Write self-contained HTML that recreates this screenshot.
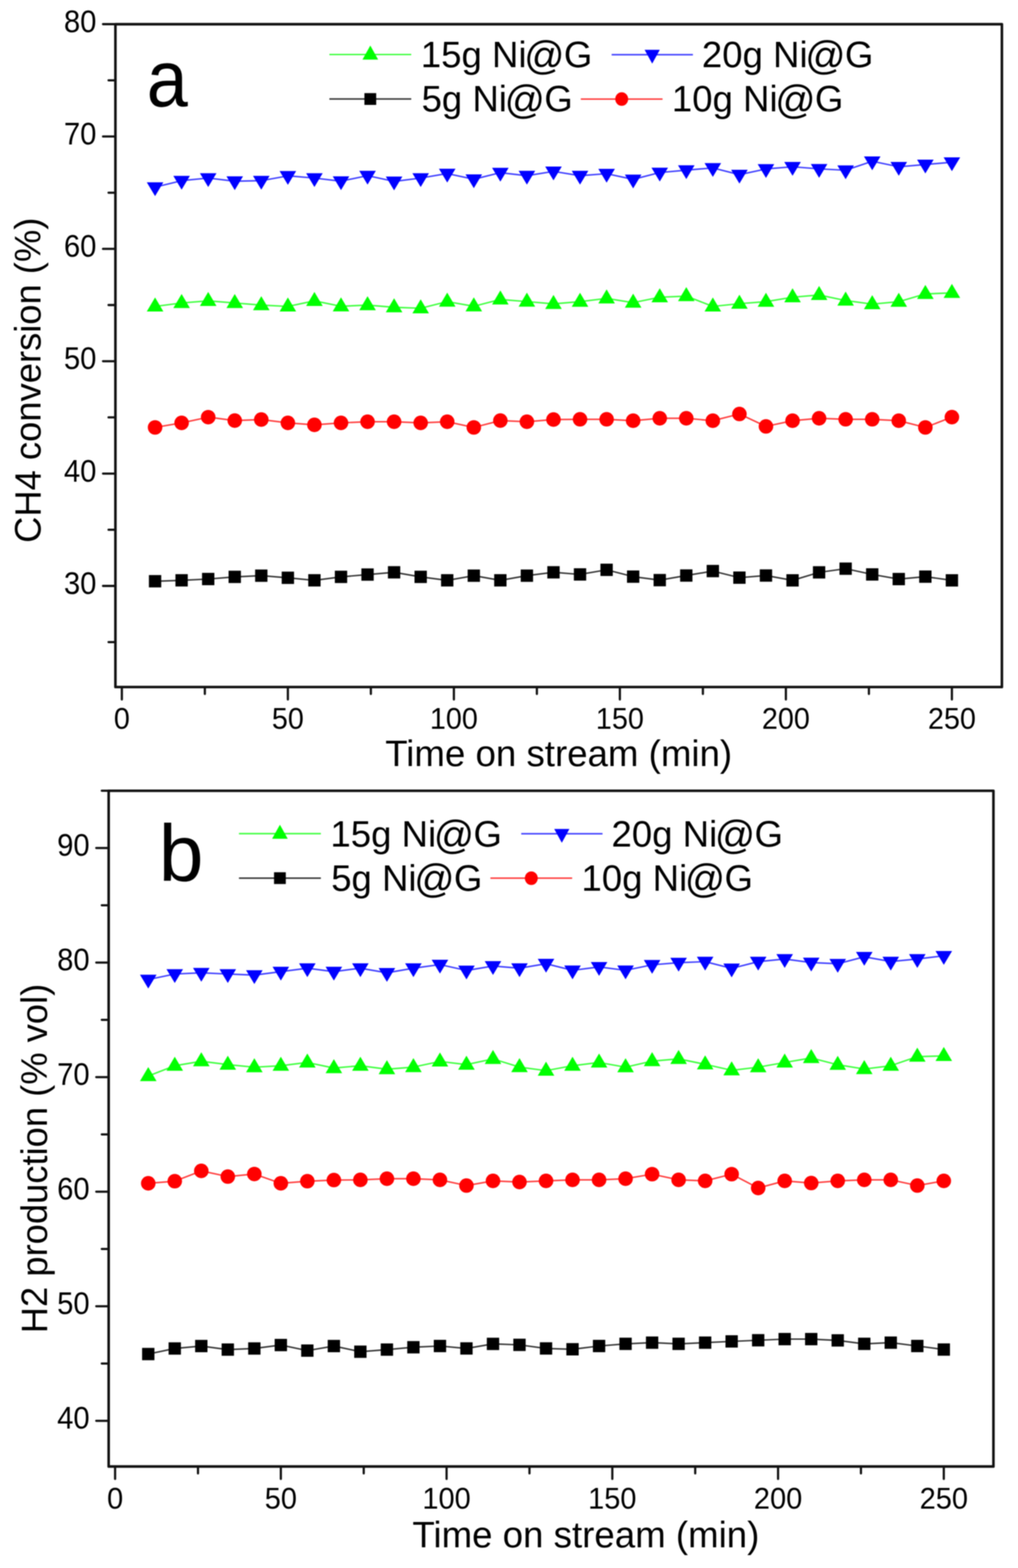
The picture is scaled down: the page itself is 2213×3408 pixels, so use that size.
<!DOCTYPE html>
<html><head><meta charset="utf-8"><title>CH4 conversion and H2 production vs time on stream</title>
<style>
html,body{margin:0;padding:0;background:#fff;}
body{width:2213px;height:3408px;overflow:hidden;}
svg{display:block;filter:blur(1px);}
</style></head>
<body>
<svg width="2213" height="3408" viewBox="0 0 2213 3408" font-family='"Liberation Sans", Arial, Helvetica, sans-serif' fill="#000">
<rect width="2213" height="3408" fill="#fff"/>
<polyline points="337.1,1263.3 394.8,1261.3 452.6,1258.5 510.3,1253.8 568,1251.2 625.8,1255.8 683.5,1261.3 741.3,1253.8 799,1248.8 856.7,1243.9 914.5,1253.8 972.2,1261.3 1030,1251.2 1087.7,1261.3 1145.4,1251.2 1203.2,1243.9 1260.9,1248.5 1318.7,1238.5 1376.4,1253.3 1434.2,1260.9 1491.9,1250.9 1549.6,1241.2 1607.4,1255.5 1665.1,1250.9 1722.9,1261.4 1780.6,1244 1838.3,1236 1896.1,1248.5 1953.8,1258.6 2011.6,1253.3 2069.3,1261.4" fill="none" stroke="#333333" stroke-width="3.2" stroke-linejoin="round"/>
<g fill="#000000"><rect x="323.7" y="1249.9" width="26.8" height="26.8"/><rect x="381.4" y="1247.9" width="26.8" height="26.8"/><rect x="439.2" y="1245.1" width="26.8" height="26.8"/><rect x="496.9" y="1240.4" width="26.8" height="26.8"/><rect x="554.6" y="1237.8" width="26.8" height="26.8"/><rect x="612.4" y="1242.4" width="26.8" height="26.8"/><rect x="670.1" y="1247.9" width="26.8" height="26.8"/><rect x="727.9" y="1240.4" width="26.8" height="26.8"/><rect x="785.6" y="1235.4" width="26.8" height="26.8"/><rect x="843.3" y="1230.5" width="26.8" height="26.8"/><rect x="901.1" y="1240.4" width="26.8" height="26.8"/><rect x="958.8" y="1247.9" width="26.8" height="26.8"/><rect x="1016.6" y="1237.8" width="26.8" height="26.8"/><rect x="1074.3" y="1247.9" width="26.8" height="26.8"/><rect x="1132" y="1237.8" width="26.8" height="26.8"/><rect x="1189.8" y="1230.5" width="26.8" height="26.8"/><rect x="1247.5" y="1235.1" width="26.8" height="26.8"/><rect x="1305.3" y="1225.1" width="26.8" height="26.8"/><rect x="1363" y="1239.9" width="26.8" height="26.8"/><rect x="1420.8" y="1247.5" width="26.8" height="26.8"/><rect x="1478.5" y="1237.5" width="26.8" height="26.8"/><rect x="1536.2" y="1227.8" width="26.8" height="26.8"/><rect x="1594" y="1242.1" width="26.8" height="26.8"/><rect x="1651.7" y="1237.5" width="26.8" height="26.8"/><rect x="1709.5" y="1248" width="26.8" height="26.8"/><rect x="1767.2" y="1230.6" width="26.8" height="26.8"/><rect x="1824.9" y="1222.6" width="26.8" height="26.8"/><rect x="1882.7" y="1235.1" width="26.8" height="26.8"/><rect x="1940.4" y="1245.2" width="26.8" height="26.8"/><rect x="1998.2" y="1239.9" width="26.8" height="26.8"/><rect x="2055.9" y="1248" width="26.8" height="26.8"/></g>
<polyline points="337.1,929 394.8,919.1 452.6,906.7 510.3,914.1 568,911.9 625.8,919.1 683.5,923.4 741.3,919.1 799,916.6 856.7,916.6 914.5,919.1 972.2,916.6 1030,929 1087.7,914.1 1145.4,916.6 1203.2,911.9 1260.9,911.3 1318.7,911.3 1376.4,914.4 1434.2,909.1 1491.9,909.1 1549.6,914.4 1607.4,899.8 1665.1,926.8 1722.9,914.4 1780.6,909.1 1838.3,911.3 1896.1,911.3 1953.8,914.4 2011.6,929 2069.3,906.6" fill="none" stroke="#ff3c3c" stroke-width="3.2" stroke-linejoin="round"/>
<g fill="#ff0000"><ellipse cx="337.1" cy="929" rx="15.8" ry="15.8"/><ellipse cx="394.8" cy="919.1" rx="15.8" ry="15.8"/><ellipse cx="452.6" cy="906.7" rx="15.8" ry="15.8"/><ellipse cx="510.3" cy="914.1" rx="15.8" ry="15.8"/><ellipse cx="568" cy="911.9" rx="15.8" ry="15.8"/><ellipse cx="625.8" cy="919.1" rx="15.8" ry="15.8"/><ellipse cx="683.5" cy="923.4" rx="15.8" ry="15.8"/><ellipse cx="741.3" cy="919.1" rx="15.8" ry="15.8"/><ellipse cx="799" cy="916.6" rx="15.8" ry="15.8"/><ellipse cx="856.7" cy="916.6" rx="15.8" ry="15.8"/><ellipse cx="914.5" cy="919.1" rx="15.8" ry="15.8"/><ellipse cx="972.2" cy="916.6" rx="15.8" ry="15.8"/><ellipse cx="1030" cy="929" rx="15.8" ry="15.8"/><ellipse cx="1087.7" cy="914.1" rx="15.8" ry="15.8"/><ellipse cx="1145.4" cy="916.6" rx="15.8" ry="15.8"/><ellipse cx="1203.2" cy="911.9" rx="15.8" ry="15.8"/><ellipse cx="1260.9" cy="911.3" rx="15.8" ry="15.8"/><ellipse cx="1318.7" cy="911.3" rx="15.8" ry="15.8"/><ellipse cx="1376.4" cy="914.4" rx="15.8" ry="15.8"/><ellipse cx="1434.2" cy="909.1" rx="15.8" ry="15.8"/><ellipse cx="1491.9" cy="909.1" rx="15.8" ry="15.8"/><ellipse cx="1549.6" cy="914.4" rx="15.8" ry="15.8"/><ellipse cx="1607.4" cy="899.8" rx="15.8" ry="15.8"/><ellipse cx="1665.1" cy="926.8" rx="15.8" ry="15.8"/><ellipse cx="1722.9" cy="914.4" rx="15.8" ry="15.8"/><ellipse cx="1780.6" cy="909.1" rx="15.8" ry="15.8"/><ellipse cx="1838.3" cy="911.3" rx="15.8" ry="15.8"/><ellipse cx="1896.1" cy="911.3" rx="15.8" ry="15.8"/><ellipse cx="1953.8" cy="914.4" rx="15.8" ry="15.8"/><ellipse cx="2011.6" cy="929" rx="15.8" ry="15.8"/><ellipse cx="2069.3" cy="906.6" rx="15.8" ry="15.8"/></g>
<polyline points="337.1,666 394.8,658.5 452.6,653.9 510.3,658.5 568,663.2 625.8,666 683.5,653.9 741.3,665.7 799,663.2 856.7,667.8 914.5,670 972.2,655.5 1030,665.7 1087.7,650.8 1145.4,655.5 1203.2,660.4 1260.9,655.7 1318.7,648.5 1376.4,657.8 1434.2,646 1491.9,643.6 1549.6,666 1607.4,660 1665.1,655.7 1722.9,646 1780.6,641.1 1838.3,653.2 1896.1,661 1953.8,655.7 2011.6,638.8 2069.3,636.6" fill="none" stroke="#3cff3c" stroke-width="3.2" stroke-linejoin="round"/>
<g fill="#00ff00"><polygon points="337.1,646.5 319.1,677 355.1,677"/><polygon points="394.8,639 376.8,669.5 412.8,669.5"/><polygon points="452.6,634.4 434.6,664.9 470.6,664.9"/><polygon points="510.3,639 492.3,669.5 528.3,669.5"/><polygon points="568,643.7 550,674.2 586,674.2"/><polygon points="625.8,646.5 607.8,677 643.8,677"/><polygon points="683.5,634.4 665.5,664.9 701.5,664.9"/><polygon points="741.3,646.2 723.3,676.7 759.3,676.7"/><polygon points="799,643.7 781,674.2 817,674.2"/><polygon points="856.7,648.3 838.7,678.8 874.7,678.8"/><polygon points="914.5,650.5 896.5,681 932.5,681"/><polygon points="972.2,636 954.2,666.5 990.2,666.5"/><polygon points="1030,646.2 1012,676.7 1048,676.7"/><polygon points="1087.7,631.3 1069.7,661.8 1105.7,661.8"/><polygon points="1145.4,636 1127.4,666.5 1163.4,666.5"/><polygon points="1203.2,640.9 1185.2,671.4 1221.2,671.4"/><polygon points="1260.9,636.2 1242.9,666.7 1278.9,666.7"/><polygon points="1318.7,629 1300.7,659.5 1336.7,659.5"/><polygon points="1376.4,638.3 1358.4,668.8 1394.4,668.8"/><polygon points="1434.2,626.5 1416.2,657 1452.2,657"/><polygon points="1491.9,624.1 1473.9,654.6 1509.9,654.6"/><polygon points="1549.6,646.5 1531.6,677 1567.6,677"/><polygon points="1607.4,640.5 1589.4,671 1625.4,671"/><polygon points="1665.1,636.2 1647.1,666.7 1683.1,666.7"/><polygon points="1722.9,626.5 1704.9,657 1740.9,657"/><polygon points="1780.6,621.6 1762.6,652.1 1798.6,652.1"/><polygon points="1838.3,633.7 1820.3,664.2 1856.3,664.2"/><polygon points="1896.1,641.5 1878.1,672 1914.1,672"/><polygon points="1953.8,636.2 1935.8,666.7 1971.8,666.7"/><polygon points="2011.6,619.3 1993.6,649.8 2029.6,649.8"/><polygon points="2069.3,617.1 2051.3,647.6 2087.3,647.6"/></g>
<polyline points="337.1,406.7 394.8,392.7 452.6,387 510.3,393.8 568,392.7 625.8,382.2 683.5,387 741.3,393.8 799,381.8 856.7,394.3 914.5,387 972.2,377.2 1030,389.6 1087.7,375.3 1145.4,381.8 1203.2,372.5 1260.9,381.8 1318.7,377.5 1376.4,389.9 1434.2,375 1491.9,369.8 1549.6,365 1607.4,379.6 1665.1,367.2 1722.9,362.5 1780.6,367 1838.3,370 1896.1,350.5 1953.8,362.5 2011.6,357.6 2069.3,352.6" fill="none" stroke="#3c3cff" stroke-width="3.2" stroke-linejoin="round"/>
<g fill="#0000ff"><polygon points="319.1,396.2 355.1,396.2 337.1,426.2"/><polygon points="376.8,382.2 412.8,382.2 394.8,412.2"/><polygon points="434.6,376.5 470.6,376.5 452.6,406.5"/><polygon points="492.3,383.3 528.3,383.3 510.3,413.3"/><polygon points="550,382.2 586,382.2 568,412.2"/><polygon points="607.8,371.7 643.8,371.7 625.8,401.7"/><polygon points="665.5,376.5 701.5,376.5 683.5,406.5"/><polygon points="723.3,383.3 759.3,383.3 741.3,413.3"/><polygon points="781,371.3 817,371.3 799,401.3"/><polygon points="838.7,383.8 874.7,383.8 856.7,413.8"/><polygon points="896.5,376.5 932.5,376.5 914.5,406.5"/><polygon points="954.2,366.7 990.2,366.7 972.2,396.7"/><polygon points="1012,379.1 1048,379.1 1030,409.1"/><polygon points="1069.7,364.8 1105.7,364.8 1087.7,394.8"/><polygon points="1127.4,371.3 1163.4,371.3 1145.4,401.3"/><polygon points="1185.2,362 1221.2,362 1203.2,392"/><polygon points="1242.9,371.3 1278.9,371.3 1260.9,401.3"/><polygon points="1300.7,367 1336.7,367 1318.7,397"/><polygon points="1358.4,379.4 1394.4,379.4 1376.4,409.4"/><polygon points="1416.2,364.5 1452.2,364.5 1434.2,394.5"/><polygon points="1473.9,359.3 1509.9,359.3 1491.9,389.3"/><polygon points="1531.6,354.5 1567.6,354.5 1549.6,384.5"/><polygon points="1589.4,369.1 1625.4,369.1 1607.4,399.1"/><polygon points="1647.1,356.7 1683.1,356.7 1665.1,386.7"/><polygon points="1704.9,352 1740.9,352 1722.9,382"/><polygon points="1762.6,356.5 1798.6,356.5 1780.6,386.5"/><polygon points="1820.3,359.5 1856.3,359.5 1838.3,389.5"/><polygon points="1878.1,340 1914.1,340 1896.1,370"/><polygon points="1935.8,352 1971.8,352 1953.8,382"/><polygon points="1993.6,347.1 2029.6,347.1 2011.6,377.1"/><polygon points="2051.3,342.1 2087.3,342.1 2069.3,372.1"/></g>
<rect x="250.9" y="52.6" width="1927.1" height="1440.7" fill="none" stroke="#111" stroke-width="5.6" stroke-linejoin="round"/>
<path d="M250.9 1273.5H223.9M250.9 1029.3H223.9M250.9 785.1H223.9M250.9 540.9H223.9M250.9 296.7H223.9M250.9 52.5H223.9M250.9 1395.6H235.9M250.9 1151.4H235.9M250.9 907.2H235.9M250.9 663H235.9M250.9 418.8H235.9M250.9 174.6H235.9M264.9 1493.3V1520.3M625.8 1493.3V1520.3M986.7 1493.3V1520.3M1347.5 1493.3V1520.3M1708.4 1493.3V1520.3M2069.3 1493.3V1520.3M445.3 1493.3V1508.3M806.2 1493.3V1508.3M1167.1 1493.3V1508.3M1528 1493.3V1508.3M1888.9 1493.3V1508.3" stroke="#111" stroke-width="4.8" stroke-linecap="round" fill="none"/>
<g font-size="63.5" text-anchor="end">
<text transform="translate(209.5,1290.8) scale(1,1.065)">30</text>
<text transform="translate(209.5,1046.6) scale(1,1.065)">40</text>
<text transform="translate(209.5,802.4) scale(1,1.065)">50</text>
<text transform="translate(209.5,558.2) scale(1,1.065)">60</text>
<text transform="translate(209.5,314) scale(1,1.065)">70</text>
<text transform="translate(209.5,69.8) scale(1,1.065)">80</text>
</g><g font-size="62.5" text-anchor="middle">
<text transform="translate(264.9,1584.4) scale(1,1.035)">0</text>
<text transform="translate(625.8,1584.4) scale(1,1.035)">50</text>
<text transform="translate(986.7,1584.4) scale(1,1.035)">100</text>
<text transform="translate(1347.5,1584.4) scale(1,1.035)">150</text>
<text transform="translate(1708.4,1584.4) scale(1,1.035)">200</text>
<text transform="translate(2069.3,1584.4) scale(1,1.035)">250</text>
</g>
<text x="837.4" y="1665.1" font-size="79.7">Time on stream (min)</text>
<text transform="translate(88.4,1179.9) rotate(-90)" font-size="79">CH4 conversion (%)</text>
<text transform="translate(318.8,231) scale(0.92,1)" font-size="175">a</text>
<line x1="716" y1="118.5" x2="894" y2="118.5" stroke="#3cff3c" stroke-width="3.2"/>
<g fill="#00ff00"><polygon points="805,99 788,129.5 822,129.5"/></g>
<line x1="1329.6" y1="118.8" x2="1506.3" y2="118.8" stroke="#3c3cff" stroke-width="3.2"/>
<g fill="#0000ff"><polygon points="1401.3,108.3 1434.3,108.3 1417.8,138.3"/></g>
<line x1="716" y1="215.2" x2="894" y2="215.2" stroke="#333333" stroke-width="3.2"/>
<g fill="#000000"><rect x="792.2" y="202.4" width="25.6" height="25.6"/></g>
<line x1="1262.6" y1="215.3" x2="1440.3" y2="215.3" stroke="#ff3c3c" stroke-width="3.2"/>
<g fill="#ff0000"><ellipse cx="1351.5" cy="215.3" rx="14" ry="14.8"/></g>
<g font-size="79.5">
<text x="914.8" y="146.4">15g Ni<tspan font-size="86.4" dx="-5.1" dy="3.7">@</tspan><tspan dx="-1.4" dy="-3.7">G</tspan></text>
<text x="1525.8" y="146.4">20g Ni<tspan font-size="86.4" dx="-5.1" dy="3.7">@</tspan><tspan dx="-1.4" dy="-3.7">G</tspan></text>
<text x="916.4" y="242.2">5g Ni<tspan font-size="86.4" dx="-5.1" dy="3.7">@</tspan><tspan dx="-1.4" dy="-3.7">G</tspan></text>
<text x="1460.6" y="242.2">10g Ni<tspan font-size="86.4" dx="-5.1" dy="3.7">@</tspan><tspan dx="-1.4" dy="-3.7">G</tspan></text>
</g>
<polyline points="322.3,2943 379.9,2930.9 437.6,2925.6 495.2,2933.3 552.9,2930.9 610.5,2923.4 668.1,2935.5 725.8,2925.6 783.4,2937.9 841.1,2933.3 898.7,2928.2 956.4,2925.5 1014,2930.8 1071.7,2920.9 1129.3,2923 1187,2930.8 1244.6,2932.6 1302.3,2925.5 1359.9,2920.8 1417.6,2918.2 1475.2,2920.8 1532.9,2918.2 1590.5,2915.5 1648.2,2913 1705.8,2910.5 1763.5,2910.5 1821.1,2913.3 1878.8,2920.8 1936.4,2918.2 1994.1,2925.5 2051.7,2933.2" fill="none" stroke="#333333" stroke-width="3.2" stroke-linejoin="round"/>
<g fill="#000000"><rect x="308.9" y="2929.6" width="26.8" height="26.8"/><rect x="366.5" y="2917.5" width="26.8" height="26.8"/><rect x="424.2" y="2912.2" width="26.8" height="26.8"/><rect x="481.8" y="2919.9" width="26.8" height="26.8"/><rect x="539.5" y="2917.5" width="26.8" height="26.8"/><rect x="597.1" y="2910" width="26.8" height="26.8"/><rect x="654.7" y="2922.1" width="26.8" height="26.8"/><rect x="712.4" y="2912.2" width="26.8" height="26.8"/><rect x="770" y="2924.5" width="26.8" height="26.8"/><rect x="827.7" y="2919.9" width="26.8" height="26.8"/><rect x="885.3" y="2914.8" width="26.8" height="26.8"/><rect x="943" y="2912.1" width="26.8" height="26.8"/><rect x="1000.6" y="2917.4" width="26.8" height="26.8"/><rect x="1058.3" y="2907.5" width="26.8" height="26.8"/><rect x="1115.9" y="2909.6" width="26.8" height="26.8"/><rect x="1173.6" y="2917.4" width="26.8" height="26.8"/><rect x="1231.2" y="2919.2" width="26.8" height="26.8"/><rect x="1288.9" y="2912.1" width="26.8" height="26.8"/><rect x="1346.5" y="2907.4" width="26.8" height="26.8"/><rect x="1404.2" y="2904.8" width="26.8" height="26.8"/><rect x="1461.8" y="2907.4" width="26.8" height="26.8"/><rect x="1519.5" y="2904.8" width="26.8" height="26.8"/><rect x="1577.1" y="2902.1" width="26.8" height="26.8"/><rect x="1634.8" y="2899.6" width="26.8" height="26.8"/><rect x="1692.4" y="2897.1" width="26.8" height="26.8"/><rect x="1750.1" y="2897.1" width="26.8" height="26.8"/><rect x="1807.7" y="2899.9" width="26.8" height="26.8"/><rect x="1865.4" y="2907.4" width="26.8" height="26.8"/><rect x="1923" y="2904.8" width="26.8" height="26.8"/><rect x="1980.7" y="2912.1" width="26.8" height="26.8"/><rect x="2038.3" y="2919.8" width="26.8" height="26.8"/></g>
<polyline points="322.3,2571.9 379.9,2567.3 437.6,2544.9 495.2,2557.3 552.9,2551.7 610.5,2571.9 668.1,2567.3 725.8,2564.8 783.4,2564.4 841.1,2561.9 898.7,2561.9 956.4,2564.4 1014,2576.8 1071.7,2566.6 1129.3,2569.1 1187,2566.6 1244.6,2564.4 1302.3,2564.4 1359.9,2561.9 1417.6,2552 1475.2,2564.4 1532.9,2566.6 1590.5,2552 1648.2,2582.1 1705.8,2566.6 1763.5,2571.3 1821.1,2566.6 1878.8,2564.4 1936.4,2564.4 1994.1,2576.8 2051.7,2566.6" fill="none" stroke="#ff3c3c" stroke-width="3.2" stroke-linejoin="round"/>
<g fill="#ff0000"><ellipse cx="322.3" cy="2571.9" rx="15.8" ry="15.8"/><ellipse cx="379.9" cy="2567.3" rx="15.8" ry="15.8"/><ellipse cx="437.6" cy="2544.9" rx="15.8" ry="15.8"/><ellipse cx="495.2" cy="2557.3" rx="15.8" ry="15.8"/><ellipse cx="552.9" cy="2551.7" rx="15.8" ry="15.8"/><ellipse cx="610.5" cy="2571.9" rx="15.8" ry="15.8"/><ellipse cx="668.1" cy="2567.3" rx="15.8" ry="15.8"/><ellipse cx="725.8" cy="2564.8" rx="15.8" ry="15.8"/><ellipse cx="783.4" cy="2564.4" rx="15.8" ry="15.8"/><ellipse cx="841.1" cy="2561.9" rx="15.8" ry="15.8"/><ellipse cx="898.7" cy="2561.9" rx="15.8" ry="15.8"/><ellipse cx="956.4" cy="2564.4" rx="15.8" ry="15.8"/><ellipse cx="1014" cy="2576.8" rx="15.8" ry="15.8"/><ellipse cx="1071.7" cy="2566.6" rx="15.8" ry="15.8"/><ellipse cx="1129.3" cy="2569.1" rx="15.8" ry="15.8"/><ellipse cx="1187" cy="2566.6" rx="15.8" ry="15.8"/><ellipse cx="1244.6" cy="2564.4" rx="15.8" ry="15.8"/><ellipse cx="1302.3" cy="2564.4" rx="15.8" ry="15.8"/><ellipse cx="1359.9" cy="2561.9" rx="15.8" ry="15.8"/><ellipse cx="1417.6" cy="2552" rx="15.8" ry="15.8"/><ellipse cx="1475.2" cy="2564.4" rx="15.8" ry="15.8"/><ellipse cx="1532.9" cy="2566.6" rx="15.8" ry="15.8"/><ellipse cx="1590.5" cy="2552" rx="15.8" ry="15.8"/><ellipse cx="1648.2" cy="2582.1" rx="15.8" ry="15.8"/><ellipse cx="1705.8" cy="2566.6" rx="15.8" ry="15.8"/><ellipse cx="1763.5" cy="2571.3" rx="15.8" ry="15.8"/><ellipse cx="1821.1" cy="2566.6" rx="15.8" ry="15.8"/><ellipse cx="1878.8" cy="2564.4" rx="15.8" ry="15.8"/><ellipse cx="1936.4" cy="2564.4" rx="15.8" ry="15.8"/><ellipse cx="1994.1" cy="2576.8" rx="15.8" ry="15.8"/><ellipse cx="2051.7" cy="2566.6" rx="15.8" ry="15.8"/></g>
<polyline points="322.3,2338.7 379.9,2316.3 437.6,2306.6 495.2,2313.9 552.9,2319.5 610.5,2316.3 668.1,2309.2 725.8,2321.4 783.4,2316.3 841.1,2323.8 898.7,2319.3 956.4,2307 1014,2313.9 1071.7,2301.5 1129.3,2319.3 1187,2327 1244.6,2316.3 1302.3,2309.2 1359.9,2319.5 1417.6,2306.3 1475.2,2301.4 1532.9,2313.3 1590.5,2326.3 1648.2,2319.5 1705.8,2309.2 1763.5,2299.4 1821.1,2314.2 1878.8,2323.5 1936.4,2316.3 1994.1,2296.6 2051.7,2295" fill="none" stroke="#3cff3c" stroke-width="3.2" stroke-linejoin="round"/>
<g fill="#00ff00"><polygon points="322.3,2319.2 304.3,2349.7 340.3,2349.7"/><polygon points="379.9,2296.8 361.9,2327.3 397.9,2327.3"/><polygon points="437.6,2287.1 419.6,2317.6 455.6,2317.6"/><polygon points="495.2,2294.4 477.2,2324.9 513.2,2324.9"/><polygon points="552.9,2300 534.9,2330.5 570.9,2330.5"/><polygon points="610.5,2296.8 592.5,2327.3 628.5,2327.3"/><polygon points="668.1,2289.7 650.1,2320.2 686.1,2320.2"/><polygon points="725.8,2301.9 707.8,2332.4 743.8,2332.4"/><polygon points="783.4,2296.8 765.4,2327.3 801.4,2327.3"/><polygon points="841.1,2304.3 823.1,2334.8 859.1,2334.8"/><polygon points="898.7,2299.8 880.7,2330.3 916.7,2330.3"/><polygon points="956.4,2287.5 938.4,2318 974.4,2318"/><polygon points="1014,2294.4 996,2324.9 1032,2324.9"/><polygon points="1071.7,2282 1053.7,2312.5 1089.7,2312.5"/><polygon points="1129.3,2299.8 1111.3,2330.3 1147.3,2330.3"/><polygon points="1187,2307.5 1169,2338 1205,2338"/><polygon points="1244.6,2296.8 1226.6,2327.3 1262.6,2327.3"/><polygon points="1302.3,2289.7 1284.3,2320.2 1320.3,2320.2"/><polygon points="1359.9,2300 1341.9,2330.5 1377.9,2330.5"/><polygon points="1417.6,2286.8 1399.6,2317.3 1435.6,2317.3"/><polygon points="1475.2,2281.9 1457.2,2312.4 1493.2,2312.4"/><polygon points="1532.9,2293.8 1514.9,2324.3 1550.9,2324.3"/><polygon points="1590.5,2306.8 1572.5,2337.3 1608.5,2337.3"/><polygon points="1648.2,2300 1630.2,2330.5 1666.2,2330.5"/><polygon points="1705.8,2289.7 1687.8,2320.2 1723.8,2320.2"/><polygon points="1763.5,2279.9 1745.5,2310.4 1781.5,2310.4"/><polygon points="1821.1,2294.7 1803.1,2325.2 1839.1,2325.2"/><polygon points="1878.8,2304 1860.8,2334.5 1896.8,2334.5"/><polygon points="1936.4,2296.8 1918.4,2327.3 1954.4,2327.3"/><polygon points="1994.1,2277.1 1976.1,2307.6 2012.1,2307.6"/><polygon points="2051.7,2275.5 2033.7,2306 2069.7,2306"/></g>
<polyline points="322.3,2129 379.9,2117 437.6,2114.3 495.2,2117 552.9,2119.3 610.5,2111.8 668.1,2104.3 725.8,2111.8 783.4,2104.3 841.1,2114.4 898.7,2104.3 956.4,2096.5 1014,2109.3 1071.7,2099.6 1129.3,2104.3 1187,2094.6 1244.6,2109 1302.3,2101.6 1359.9,2109 1417.6,2097 1475.2,2092.3 1532.9,2090.1 1590.5,2104.7 1648.2,2090.1 1705.8,2084.3 1763.5,2092.1 1821.1,2094.7 1878.8,2079.6 1936.4,2089.9 1994.1,2084.3 2051.7,2077.5" fill="none" stroke="#3c3cff" stroke-width="3.2" stroke-linejoin="round"/>
<g fill="#0000ff"><polygon points="304.3,2118.5 340.3,2118.5 322.3,2148.5"/><polygon points="361.9,2106.5 397.9,2106.5 379.9,2136.5"/><polygon points="419.6,2103.8 455.6,2103.8 437.6,2133.8"/><polygon points="477.2,2106.5 513.2,2106.5 495.2,2136.5"/><polygon points="534.9,2108.8 570.9,2108.8 552.9,2138.8"/><polygon points="592.5,2101.3 628.5,2101.3 610.5,2131.3"/><polygon points="650.1,2093.8 686.1,2093.8 668.1,2123.8"/><polygon points="707.8,2101.3 743.8,2101.3 725.8,2131.3"/><polygon points="765.4,2093.8 801.4,2093.8 783.4,2123.8"/><polygon points="823.1,2103.9 859.1,2103.9 841.1,2133.9"/><polygon points="880.7,2093.8 916.7,2093.8 898.7,2123.8"/><polygon points="938.4,2086 974.4,2086 956.4,2116"/><polygon points="996,2098.8 1032,2098.8 1014,2128.8"/><polygon points="1053.7,2089.1 1089.7,2089.1 1071.7,2119.1"/><polygon points="1111.3,2093.8 1147.3,2093.8 1129.3,2123.8"/><polygon points="1169,2084.1 1205,2084.1 1187,2114.1"/><polygon points="1226.6,2098.5 1262.6,2098.5 1244.6,2128.5"/><polygon points="1284.3,2091.1 1320.3,2091.1 1302.3,2121.1"/><polygon points="1341.9,2098.5 1377.9,2098.5 1359.9,2128.5"/><polygon points="1399.6,2086.5 1435.6,2086.5 1417.6,2116.5"/><polygon points="1457.2,2081.8 1493.2,2081.8 1475.2,2111.8"/><polygon points="1514.9,2079.6 1550.9,2079.6 1532.9,2109.6"/><polygon points="1572.5,2094.2 1608.5,2094.2 1590.5,2124.2"/><polygon points="1630.2,2079.6 1666.2,2079.6 1648.2,2109.6"/><polygon points="1687.8,2073.8 1723.8,2073.8 1705.8,2103.8"/><polygon points="1745.5,2081.6 1781.5,2081.6 1763.5,2111.6"/><polygon points="1803.1,2084.2 1839.1,2084.2 1821.1,2114.2"/><polygon points="1860.8,2069.1 1896.8,2069.1 1878.8,2099.1"/><polygon points="1918.4,2079.4 1954.4,2079.4 1936.4,2109.4"/><polygon points="1976.1,2073.8 2012.1,2073.8 1994.1,2103.8"/><polygon points="2033.7,2067 2069.7,2067 2051.7,2097"/></g>
<rect x="236.2" y="1718.8" width="1923.4" height="1468.6" fill="none" stroke="#111" stroke-width="5.6" stroke-linejoin="round"/>
<path d="M236.2 3088.1H209.2M236.2 2839.1H209.2M236.2 2590.1H209.2M236.2 2341.1H209.2M236.2 2092.1H209.2M236.2 1843.1H209.2M236.2 2963.6H221.2M236.2 2714.6H221.2M236.2 2465.6H221.2M236.2 2216.6H221.2M236.2 1967.6H221.2M236.2 1718.6H221.2M250.2 3187.4V3214.4M610.5 3187.4V3214.4M970.8 3187.4V3214.4M1331.1 3187.4V3214.4M1691.4 3187.4V3214.4M2051.7 3187.4V3214.4M430.4 3187.4V3202.4M790.7 3187.4V3202.4M1151 3187.4V3202.4M1511.3 3187.4V3202.4M1871.6 3187.4V3202.4" stroke="#111" stroke-width="4.8" stroke-linecap="round" fill="none"/>
<g font-size="63.5" text-anchor="end">
<text transform="translate(194.9,3105.4) scale(1,1.065)">40</text>
<text transform="translate(194.9,2856.4) scale(1,1.065)">50</text>
<text transform="translate(194.9,2607.4) scale(1,1.065)">60</text>
<text transform="translate(194.9,2358.4) scale(1,1.065)">70</text>
<text transform="translate(194.9,2109.4) scale(1,1.065)">80</text>
<text transform="translate(194.9,1860.4) scale(1,1.065)">90</text>
</g><g font-size="63" text-anchor="middle">
<text transform="translate(250.2,3279.2) scale(1,1.035)">0</text>
<text transform="translate(610.5,3279.2) scale(1,1.035)">50</text>
<text transform="translate(970.8,3279.2) scale(1,1.035)">100</text>
<text transform="translate(1331.1,3279.2) scale(1,1.035)">150</text>
<text transform="translate(1691.4,3279.2) scale(1,1.035)">200</text>
<text transform="translate(2051.7,3279.2) scale(1,1.035)">250</text>
</g>
<text x="896.5" y="3363.3" font-size="79.7">Time on stream (min)</text>
<text transform="translate(101.5,2897.7) rotate(-90)" font-size="79">H2 production (% vol)</text>
<text x="344.9" y="1914.3" font-size="175">b</text>
<line x1="519.5" y1="1811.9" x2="697.5" y2="1811.9" stroke="#3cff3c" stroke-width="3.2"/>
<g fill="#00ff00"><polygon points="608.5,1792.4 591.5,1822.9 625.5,1822.9"/></g>
<line x1="1133.1" y1="1812.2" x2="1309.8" y2="1812.2" stroke="#3c3cff" stroke-width="3.2"/>
<g fill="#0000ff"><polygon points="1204.8,1801.7 1237.8,1801.7 1221.3,1831.7"/></g>
<line x1="519.5" y1="1908.6" x2="697.5" y2="1908.6" stroke="#333333" stroke-width="3.2"/>
<g fill="#000000"><rect x="595.7" y="1895.8" width="25.6" height="25.6"/></g>
<line x1="1066.1" y1="1908.7" x2="1243.8" y2="1908.7" stroke="#ff3c3c" stroke-width="3.2"/>
<g fill="#ff0000"><ellipse cx="1155" cy="1908.7" rx="14" ry="14.8"/></g>
<g font-size="79.5">
<text x="718.3" y="1839.8">15g Ni<tspan font-size="86.4" dx="-5.1" dy="3.7">@</tspan><tspan dx="-1.4" dy="-3.7">G</tspan></text>
<text x="1329.3" y="1839.8">20g Ni<tspan font-size="86.4" dx="-5.1" dy="3.7">@</tspan><tspan dx="-1.4" dy="-3.7">G</tspan></text>
<text x="719.9" y="1935.6">5g Ni<tspan font-size="86.4" dx="-5.1" dy="3.7">@</tspan><tspan dx="-1.4" dy="-3.7">G</tspan></text>
<text x="1264.1" y="1935.6">10g Ni<tspan font-size="86.4" dx="-5.1" dy="3.7">@</tspan><tspan dx="-1.4" dy="-3.7">G</tspan></text>
</g>
</svg>
</body></html>
